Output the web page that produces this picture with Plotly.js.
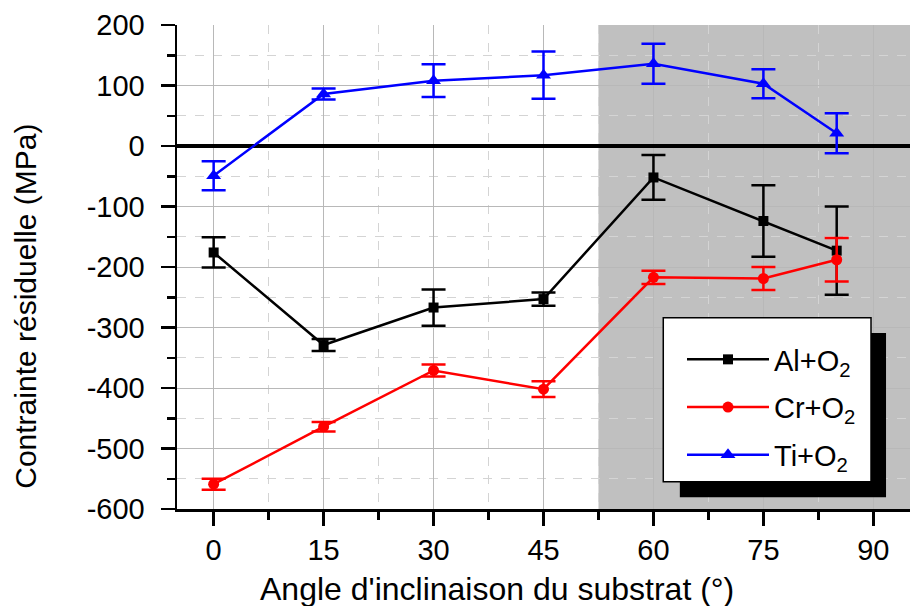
<!DOCTYPE html>
<html>
<head>
<meta charset="utf-8">
<script src="https://cdn.plot.ly/plotly-3.0.1.min.js"></script>
<style>html,body{margin:0;padding:0;background:#fff;}#chart{width:913px;height:606px;}</style>
</head>
<body>
<div id="chart"></div>
<script>
// Data
const angles = [0, 15, 30, 45, 60, 75, 85];
const alValues = [-176, -329, -267, -253, -52, -124, -173];
const alErrors = [25, 10, 30, 11, 37, 59, 73];
const crValues = [-559, -464, -371, -402, -217, -219, -188];
const crErrors = [9, 8, 10, 13, 11, 19, 36];
const tiValues = [-49, 86, 108, 117, 136, 103, 21];
const tiErrors = [24, 9, 27, 39, 33, 24, 33];
const seriesNames = ['Al+O<sub>2</sub>', 'Cr+O<sub>2</sub>', 'Ti+O<sub>2</sub>'];
const xTicks = [0, 15, 30, 45, 60, 75, 90];
const yTicks = [-600, -500, -400, -300, -200, -100, 0, 100, 200];
const xTitle = "Angle d'inclinaison du substrat (°)";
const yTitle = 'Contrainte résiduelle (MPa)';
const shadedFrom = 52.5;

const FONT = 'Liberation Sans, Arial, sans-serif';

function series(name, y, err, color, symbol, size, grp) {
  return {
    x: angles, y: y, name: name, type: 'scatter', mode: 'lines+markers',
    legendgroup: grp,
    line: {color: color, width: 2.5},
    marker: {color: color, symbol: symbol, size: size},
    error_y: {type: 'data', array: err, visible: true, color: color, thickness: 2.5, width: 12}
  };
}

const traces = [
  series(seriesNames[0], alValues, alErrors, '#000000', 'square', 10, 'a'),
  series(seriesNames[1], crValues, crErrors, '#ff0000', 'circle', 11, 'b'),
  series(seriesNames[2], tiValues, tiErrors, '#0000ff', 'triangle-up', 13, 'c')
];

const axisCommon = {
  showline: true, linecolor: '#000', linewidth: 2.5,
  ticks: 'outside', tickcolor: '#000', tickwidth: 2.5, ticklen: 14,
  showgrid: true, gridcolor: '#b8b8b8', gridwidth: 1,
  tickfont: {family: FONT, size: 29, color: '#000'},
  zeroline: false
};

const layout = {
  width: 913, height: 606,
  margin: {l: 177, r: 3, t: 25, b: 97},
  paper_bgcolor: '#fff', plot_bgcolor: '#fff',
  font: {family: FONT, color: '#000'},
  showlegend: true,
  xaxis: Object.assign({}, axisCommon, {
    range: [-5, 95], tickmode: 'array', tickvals: xTicks, ticktext: xTicks.map(String),
    minor: {dtick: 7.5, tick0: 0, ticks: 'outside', ticklen: 8, tickwidth: 2.5, tickcolor: '#000', showgrid: true, gridcolor: '#d4d4d4', griddash: 'dash', gridwidth: 1}
  }),
  yaxis: Object.assign({}, axisCommon, {
    range: [-600, 200], tickmode: 'array', tickvals: yTicks, ticktext: yTicks.map(String),
    ticklabelstandoff: 10,
    zeroline: true, zerolinecolor: '#000', zerolinewidth: 3.5,
    minor: {dtick: 50, tick0: 0, ticks: 'outside', ticklen: 8, tickwidth: 2.5, tickcolor: '#000', showgrid: true, gridcolor: '#d4d4d4', griddash: 'dash', gridwidth: 1}
  }),
  xaxis2: {
    overlaying: 'x', matches: 'x', anchor: 'y', side: 'top', range: [-5, 95],
    showline: false, showgrid: false, zeroline: false, showticklabels: false,
    ticks: 'outside', tickcolor: '#000', tickwidth: 2.5, ticklen: 8,
    tickmode: 'array', tickvals: xTicks,
    minor: {dtick: 7.5, tick0: 0, ticks: 'outside', ticklen: 4, tickwidth: 2.5, tickcolor: '#000'}
  },
  yaxis2: {
    overlaying: 'y', matches: 'y', anchor: 'x', side: 'right', range: [-600, 200],
    showline: false, showgrid: false, zeroline: false, showticklabels: false,
    ticks: 'outside', tickcolor: '#000', tickwidth: 2.5, ticklen: 8,
    tickmode: 'array', tickvals: yTicks,
    minor: {dtick: 50, tick0: 0, ticks: 'outside', ticklen: 4, tickwidth: 2.5, tickcolor: '#000'}
  },
  annotations: [
    {text: xTitle, xref: 'paper', yref: 'paper', x: 0.4372, y: -0.1653,
     xanchor: 'center', yanchor: 'middle', showarrow: false,
     font: {family: FONT, size: 32, color: '#000'}},
    {text: yTitle, xref: 'paper', yref: 'paper', x: -0.207, y: 0.4184, textangle: -90,
     xanchor: 'center', yanchor: 'middle', showarrow: false,
     font: {family: FONT, size: 30, color: '#000'}}
  ],
  shapes: [
    {type: 'rect', xref: 'x', yref: 'paper', x0: shadedFrom, x1: 95, y0: 0, y1: 1,
     fillcolor: '#c0c0c0', line: {width: 0}, layer: 'below'},
    // legend drop shadow
    {type: 'rect', xref: 'paper', yref: 'paper', x0: 0.686, x1: 0.9673, y0: 0.0242, y1: 0.3636,
     fillcolor: '#000', line: {width: 0}, layer: 'above'},
    // legend box
    {type: 'rect', xref: 'paper', yref: 'paper', x0: 0.6634, x1: 0.9468, y0: 0.0564, y1: 0.3953,
     fillcolor: '#fff', line: {width: 1.5, color: '#000'}, layer: 'above'}
  ],
  legend: {
    x: (682 - 177) / 733, y: (509 - 334) / 484, xanchor: 'left', yanchor: 'top',
    bgcolor: 'rgba(0,0,0,0)', borderwidth: 0,
    font: {family: FONT, size: 29, color: '#000'},
    traceorder: 'grouped', tracegroupgap: 7, itemwidth: 82
  }
};

Plotly.newPlot('chart', traces, layout, {displayModeBar: false, staticPlot: true});
</script>
</body>
</html>
